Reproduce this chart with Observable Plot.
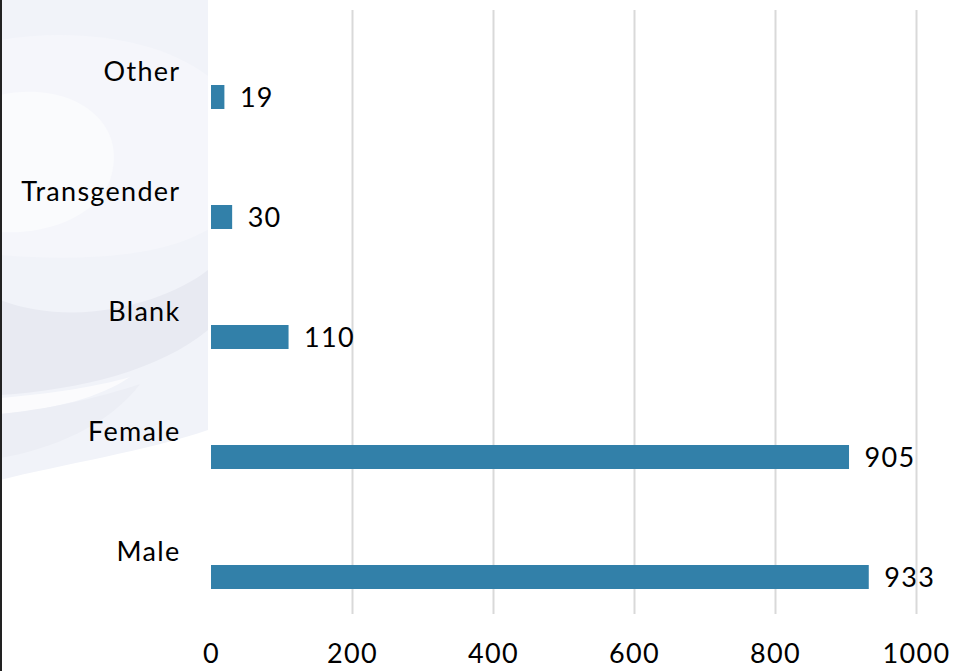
<!DOCTYPE html>
<html>
<head>
<meta charset="utf-8">
<script src="https://cdn.jsdelivr.net/npm/d3@7"></script>
<script src="https://cdn.jsdelivr.net/npm/@observablehq/plot@0.6"></script>
<style>
  html, body { margin: 0; padding: 0; background: #fff; }
  #wrap { position: relative; width: 958px; height: 671px; overflow: hidden; }
  #bg { position: absolute; left: 0; top: 0; }
  #chart { position: absolute; left: 0; top: 0; }
  #chart svg text { letter-spacing: 1.3px; }
  #edge { position: absolute; left: 0; top: 0; width: 2px; height: 671px; background: #222; }
</style>
</head>
<body>
<div id="wrap">
  <svg id="bg" width="958" height="671">
    <defs>
      <clipPath id="panel"><rect x="0" y="0" width="208" height="671"/></clipPath>
    </defs>
    <g clip-path="url(#panel)">
      <!-- soft swirl emblem behind the category labels -->
      <path d="M0,0 H208 V430 C150,450 60,465 0,480 Z" fill="#f1f3f9"/>
      <path d="M0,40 C120,20 260,60 250,170 C240,250 120,265 0,255 Z" fill="#f5f6fb"/>
      <path d="M0,95 C70,80 130,120 110,180 C95,220 40,235 0,232 Z" fill="#fafbfd"/>
      <path d="M0,300 C80,330 170,300 208,270 V330 C160,370 80,390 0,395 Z" fill="#e8eaf2"/>
      <path d="M0,398 C50,394 100,386 130,377 C100,398 50,410 0,414 Z" fill="#fbfbfd"/>
      <path d="M0,414 C60,408 110,394 140,384 C110,425 50,450 0,458 Z" fill="#eceef5"/>
    </g>
  </svg>
  <div id="chart"></div>
  <div id="edge"></div>
</div>
<script>
// Gender breakdown of respondents
const categories = ["Other", "Transgender", "Blank", "Female", "Male"];
const counts = [19, 30, 110, 905, 933];
const xTicks = [0, 200, 400, 600, 800, 1000];

const rows = categories.map((c, i) => ({category: c, count: counts[i]}));
const font = "Lato, 'Open Sans', sans-serif";

const chart = Plot.plot({
  width: 958,
  height: 671,
  marginLeft: 211,
  marginRight: 42,
  marginTop: 10,
  marginBottom: 57,
  style: {fontFamily: font, fontSize: "27px", color: "#000", background: "transparent"},
  x: {domain: [0, 1000], ticks: xTicks, label: null},
  y: {domain: categories, padding: 0, label: null},
  marks: [
    Plot.ruleX(xTicks.filter(t => t > 0), {stroke: "#d9d9d9", strokeWidth: 2, strokeOpacity: 1}),
    Plot.barX(rows, {x: "count", y: "category", fill: "#3280a9", insetTop: 73, insetBottom: 23}),
    Plot.text(rows, {x: "count", y: "category", text: d => String(d.count), textAnchor: "start",
      dx: 15, dy: 26, fontSize: 27, fill: "#000"}),
    Plot.axisY({tickSize: 0, tickPadding: 31, fontSize: 27, label: null}),
    Plot.axisX({ticks: xTicks, tickSize: 0, tickPadding: 29, fontSize: 27, label: null, tickFormat: d => String(d)})
  ]
});
document.getElementById("chart").appendChild(chart);
</script>
</body>
</html>
